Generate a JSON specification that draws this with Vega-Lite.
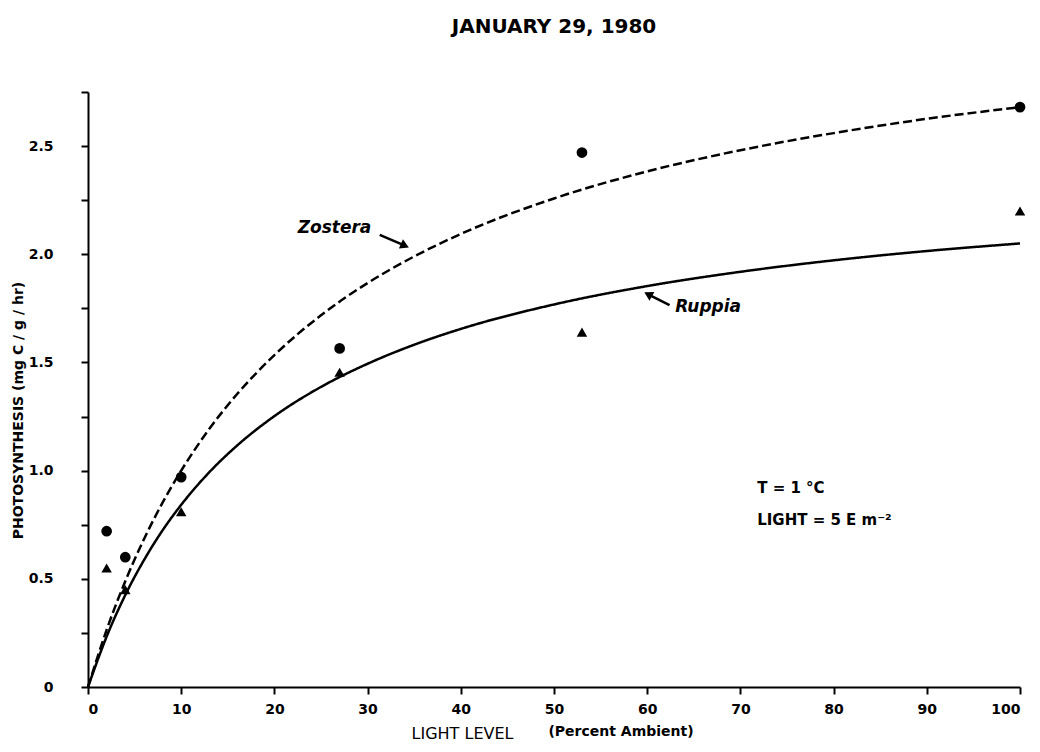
{
  "$schema": "https://vega.github.io/schema/vega-lite/v6.json",
  "width": 932,
  "height": 595,
  "autosize": {"type": "none"},
  "padding": {"left": 88, "top": 92, "right": 20, "bottom": 65},
  "background": "white",
  "config": {
    "view": {"stroke": null},
    "font": "DejaVu Sans",
    "axis": {
      "domainColor": "black", "domainWidth": 2,
      "tickColor": "black", "tickWidth": 2, "tickSize": 7,
      "labelColor": "black", "labelFontSize": 14, "labelFontWeight": "bold", "labelFont": "DejaVu Sans",
      "titleColor": "black", "titleFont": "DejaVu Sans",
      "grid": false
    }
  },
  "title": {"text": "JANUARY 29, 1980", "fontSize": 20, "fontWeight": "bold", "font": "DejaVu Sans", "color": "black", "offset": 54, "anchor": "middle"},
  "datasets": {
    "curves": [
      {"species": "Zostera", "x": 0, "y": 0}, {"species": "Zostera", "x": 2, "y": 0.264}, {"species": "Zostera", "x": 4, "y": 0.489},
      {"species": "Zostera", "x": 6, "y": 0.683}, {"species": "Zostera", "x": 8, "y": 0.852}, {"species": "Zostera", "x": 10, "y": 1.0},
      {"species": "Zostera", "x": 13, "y": 1.192}, {"species": "Zostera", "x": 16, "y": 1.354}, {"species": "Zostera", "x": 20, "y": 1.534},
      {"species": "Zostera", "x": 25, "y": 1.718}, {"species": "Zostera", "x": 30, "y": 1.867}, {"species": "Zostera", "x": 35, "y": 1.99},
      {"species": "Zostera", "x": 40, "y": 2.094}, {"species": "Zostera", "x": 50, "y": 2.258}, {"species": "Zostera", "x": 60, "y": 2.383},
      {"species": "Zostera", "x": 70, "y": 2.481}, {"species": "Zostera", "x": 80, "y": 2.56}, {"species": "Zostera", "x": 90, "y": 2.626},
      {"species": "Zostera", "x": 100, "y": 2.68},
      {"species": "Ruppia", "x": 0, "y": 0}, {"species": "Ruppia", "x": 2, "y": 0.233}, {"species": "Ruppia", "x": 4, "y": 0.425},
      {"species": "Ruppia", "x": 6, "y": 0.586}, {"species": "Ruppia", "x": 8, "y": 0.724}, {"species": "Ruppia", "x": 10, "y": 0.842},
      {"species": "Ruppia", "x": 13, "y": 0.992}, {"species": "Ruppia", "x": 16, "y": 1.116}, {"species": "Ruppia", "x": 20, "y": 1.252},
      {"species": "Ruppia", "x": 25, "y": 1.387}, {"species": "Ruppia", "x": 30, "y": 1.494}, {"species": "Ruppia", "x": 35, "y": 1.582},
      {"species": "Ruppia", "x": 40, "y": 1.655}, {"species": "Ruppia", "x": 50, "y": 1.768}, {"species": "Ruppia", "x": 60, "y": 1.853},
      {"species": "Ruppia", "x": 70, "y": 1.919}, {"species": "Ruppia", "x": 80, "y": 1.972}, {"species": "Ruppia", "x": 90, "y": 2.015},
      {"species": "Ruppia", "x": 100, "y": 2.05}
    ],
    "obs": [
      {"species": "Zostera", "x": 2, "y": 0.72}, {"species": "Zostera", "x": 4, "y": 0.6}, {"species": "Zostera", "x": 10, "y": 0.97},
      {"species": "Zostera", "x": 27, "y": 1.565}, {"species": "Zostera", "x": 53, "y": 2.47}, {"species": "Zostera", "x": 100, "y": 2.68},
      {"species": "Ruppia", "x": 2, "y": 0.55}, {"species": "Ruppia", "x": 4, "y": 0.45}, {"species": "Ruppia", "x": 10, "y": 0.81},
      {"species": "Ruppia", "x": 27, "y": 1.455}, {"species": "Ruppia", "x": 53, "y": 1.64}, {"species": "Ruppia", "x": 100, "y": 2.2}
    ],
    "italic": [
      {"label": "Zostera", "x": 22.5, "y": 2.12},
      {"label": "Ruppia", "x": 63.0, "y": 1.755}
    ],
    "notes": [
      {"label": "T = 1 °C", "x": 71.8, "y": 0.92},
      {"label": "LIGHT = 5 E m⁻²", "x": 71.8, "y": 0.773}
    ],
    "sub": [
      {"label": "(Percent Ambient)", "x": 49.4, "y": -0.21}
    ],
    "arrows": [
      {"x": 31.3, "y": 2.09, "x2": 34.0, "y2": 2.04, "angle": 24},
      {"x": 62.4, "y": 1.765, "x2": 60.1, "y2": 1.815, "angle": 209}
    ]
  },
  "encoding": {
    "x": {
      "field": "x", "type": "quantitative",
      "scale": {"domain": [0, 100], "nice": false, "zero": false},
      "axis": {
        "values": [0, 10, 20, 30, 40, 50, 60, 70, 80, 90, 100],
        "labelPadding": 8,
        "title": "LIGHT LEVEL",
        "titleFontSize": 16, "titleFontWeight": "normal",
        "titleAnchor": null, "titleAlign": "center", "titleBaseline": "middle",
        "titleX": 374, "titleY": 46
      }
    },
    "y": {
      "field": "y", "type": "quantitative",
      "scale": {"domain": [0, 2.75], "nice": false, "zero": false},
      "axis": {
        "values": [0, 0.25, 0.5, 0.75, 1, 1.25, 1.5, 1.75, 2, 2.25, 2.5, 2.75],
        "labelExpr": "datum.value % 0.5 == 0 ? (datum.value == 0 ? '0' : format(datum.value, '.1f')) : ''",
        "labelPadding": 28,
        "title": "PHOTOSYNTHESIS  (mg C / g / hr)",
        "titleFontSize": 14, "titleFontWeight": "bold",
        "titleAngle": -90, "titleAnchor": null, "titleAlign": "center", "titleBaseline": "middle",
        "titleX": -70, "titleY": 318
      }
    }
  },
  "layer": [
    {
      "data": {"name": "curves"},
      "mark": {"type": "line", "color": "black", "strokeWidth": 2.5, "interpolate": "monotone", "clip": false},
      "encoding": {
        "detail": {"field": "species"},
        "strokeDash": {"field": "species", "type": "nominal", "scale": {"domain": ["Zostera", "Ruppia"], "range": [[9, 4], [1, 0]]}, "legend": null}
      }
    },
    {
      "data": {"name": "obs"},
      "mark": {"type": "point", "filled": true, "color": "black", "opacity": 1, "clip": false},
      "encoding": {
        "shape": {"field": "species", "type": "nominal", "scale": {"domain": ["Zostera", "Ruppia"], "range": ["circle", "triangle-up"]}, "legend": null},
        "size": {"field": "species", "type": "nominal", "scale": {"domain": ["Zostera", "Ruppia"], "range": [115, 110]}, "legend": null}
      }
    },
    {
      "data": {"name": "arrows"},
      "mark": {"type": "rule", "color": "black", "strokeWidth": 2.5},
      "encoding": {
        "x2": {"field": "x2"},
        "y2": {"field": "y2"}
      }
    },
    {
      "data": {"name": "arrows"},
      "mark": {"type": "point", "shape": "triangle-right", "filled": true, "color": "black", "opacity": 1, "size": 100},
      "encoding": {
        "x": {"field": "x2", "type": "quantitative"},
        "y": {"field": "y2", "type": "quantitative"},
        "angle": {"field": "angle", "type": "quantitative", "scale": null}
      }
    },
    {
      "data": {"name": "italic"},
      "mark": {"type": "text", "align": "left", "baseline": "middle", "fontSize": 17, "fontWeight": "bold", "fontStyle": "italic", "color": "black"},
      "encoding": {"text": {"field": "label"}}
    },
    {
      "data": {"name": "notes"},
      "mark": {"type": "text", "align": "left", "baseline": "middle", "fontSize": 15, "fontWeight": "bold", "color": "black"},
      "encoding": {"text": {"field": "label"}}
    },
    {
      "data": {"name": "sub"},
      "mark": {"type": "text", "align": "left", "baseline": "middle", "fontSize": 14, "fontWeight": "bold", "color": "black", "clip": false},
      "encoding": {"text": {"field": "label"}}
    }
  ]
}
